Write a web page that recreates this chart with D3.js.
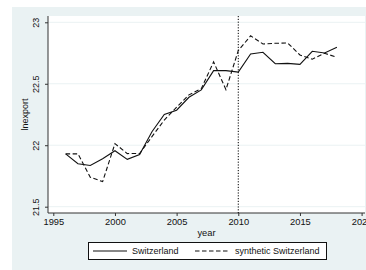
<!DOCTYPE html>
<html lang="en">
<head>
<meta charset="UTF-8">
<title>lnexport - Switzerland vs synthetic</title>
<script src="https://cdn.jsdelivr.net/npm/d3@7"></script>
<style>
  body { margin: 0; background: #fff; }
  svg text { font-family: Arial, "Liberation Sans", sans-serif; fill: #111; }
</style>
</head>
<body>
<svg id="chart" width="366" height="270"></svg>
<script>
// values
var years = d3.range(1996, 2019);
var switzerland = [21.93, 21.85, 21.835, 21.89, 21.955, 21.885, 21.925, 22.11, 22.25, 22.285,
                   22.39, 22.45, 22.607, 22.607, 22.595, 22.742, 22.756, 22.663, 22.666, 22.658,
                   22.764, 22.75, 22.797];
var synthetic = [21.93, 21.93, 21.74, 21.704, 22.013, 21.932, 21.933, 22.07, 22.205, 22.31,
                 22.41, 22.46, 22.678, 22.452, 22.77, 22.89, 22.824, 22.829, 22.832, 22.734,
                 22.70, 22.748, 22.715];
var xTicks = [1995, 2000, 2005, 2010, 2015, 2020];
var yTicks = [21.5, 22, 22.5, 23];
var treatYear = 2010;
var seriesNames = ["Switzerland", "synthetic Switzerland"];

var svg = d3.select("#chart");
var W = 366, H = 270;
var plot = {left: 48, right: 365, top: 16, bottom: 213};

// graph region (light blue) and plot region (white)
svg.append("rect").attr("x", 12).attr("y", 7).attr("width", W - 12).attr("height", H - 7)
  .attr("fill", "#eaf2f3");
svg.append("rect").attr("x", plot.left).attr("y", plot.top)
  .attr("width", plot.right - plot.left).attr("height", plot.bottom - plot.top)
  .attr("fill", "#fff");

var x = d3.scaleLinear().domain([1995, 2020]).range([53.3, 361.6]);
var y = d3.scaleLinear().domain([21.5, 23]).range([206.7, 22.3]);

// gridlines
svg.append("g").selectAll("line").data(yTicks).enter().append("line")
  .attr("x1", plot.left).attr("x2", plot.right)
  .attr("y1", function(d) { return y(d); }).attr("y2", function(d) { return y(d); })
  .attr("stroke", "#eaf2f3").attr("stroke-width", 1);

// axes
var yAxis = svg.append("g").attr("transform", "translate(" + plot.left + ",0)")
  .call(d3.axisLeft(y).tickValues(yTicks).tickSize(3).tickFormat(d3.format("")));
yAxis.select(".domain").attr("d", "M0," + plot.top + "V" + plot.bottom);
yAxis.selectAll(".tick text")
  .attr("font-size", 9).attr("text-anchor", "middle")
  .attr("transform", "rotate(-90)").attr("x", 0).attr("y", -9).attr("dy", 0);

var xAxis = svg.append("g").attr("transform", "translate(0," + plot.bottom + ")")
  .call(d3.axisBottom(x).tickValues(xTicks).tickSize(3).tickFormat(d3.format("d")));
xAxis.select(".domain").attr("d", "M" + plot.left + ",0H" + plot.right);
xAxis.selectAll(".tick text").attr("font-size", 9.3).attr("y", 5);
svg.selectAll(".domain, .tick line").attr("stroke", "#333").attr("stroke-width", 1);

// axis titles
svg.append("text").attr("transform", "translate(28," + ((plot.top + plot.bottom) / 2) + ") rotate(-90)")
  .attr("text-anchor", "middle").attr("font-size", 9).text("lnexport");
svg.append("text").attr("x", (plot.left + plot.right) / 2).attr("y", 236)
  .attr("text-anchor", "middle").attr("font-size", 9.3).text("year");

// treatment line
svg.append("line").attr("x1", x(treatYear)).attr("x2", x(treatYear))
  .attr("y1", plot.top).attr("y2", plot.bottom)
  .attr("stroke", "#000").attr("stroke-width", 1).attr("stroke-dasharray", "1.2,1.6");

// series
var line = d3.line().x(function(d) { return x(d[0]); }).y(function(d) { return y(d[1]); });
svg.append("path").datum(d3.zip(years, switzerland)).attr("d", line)
  .attr("fill", "none").attr("stroke", "#111").attr("stroke-width", 1.1);
svg.append("path").datum(d3.zip(years, synthetic)).attr("d", line)
  .attr("fill", "none").attr("stroke", "#111").attr("stroke-width", 1.1)
  .attr("stroke-dasharray", "4.5,2.5");

// legend
var leg = svg.append("g");
leg.append("rect").attr("x", 88.5).attr("y", 242.5).attr("width", 238).attr("height", 17)
  .attr("fill", "#fff").attr("stroke", "#111").attr("stroke-width", 1);
var items = [
  {name: seriesNames[0], x1: 93, x2: 127, tx: 132, dash: null},
  {name: seriesNames[1], x1: 195, x2: 229, tx: 235, dash: "4.5,2.5"}
];
items.forEach(function(it) {
  leg.append("line").attr("x1", it.x1).attr("x2", it.x2).attr("y1", 251).attr("y2", 251)
    .attr("stroke", "#111").attr("stroke-width", 1.1).attr("stroke-dasharray", it.dash);
  leg.append("text").attr("x", it.tx).attr("y", 254).attr("font-size", 9).text(it.name);
});
</script>
</body>
</html>
